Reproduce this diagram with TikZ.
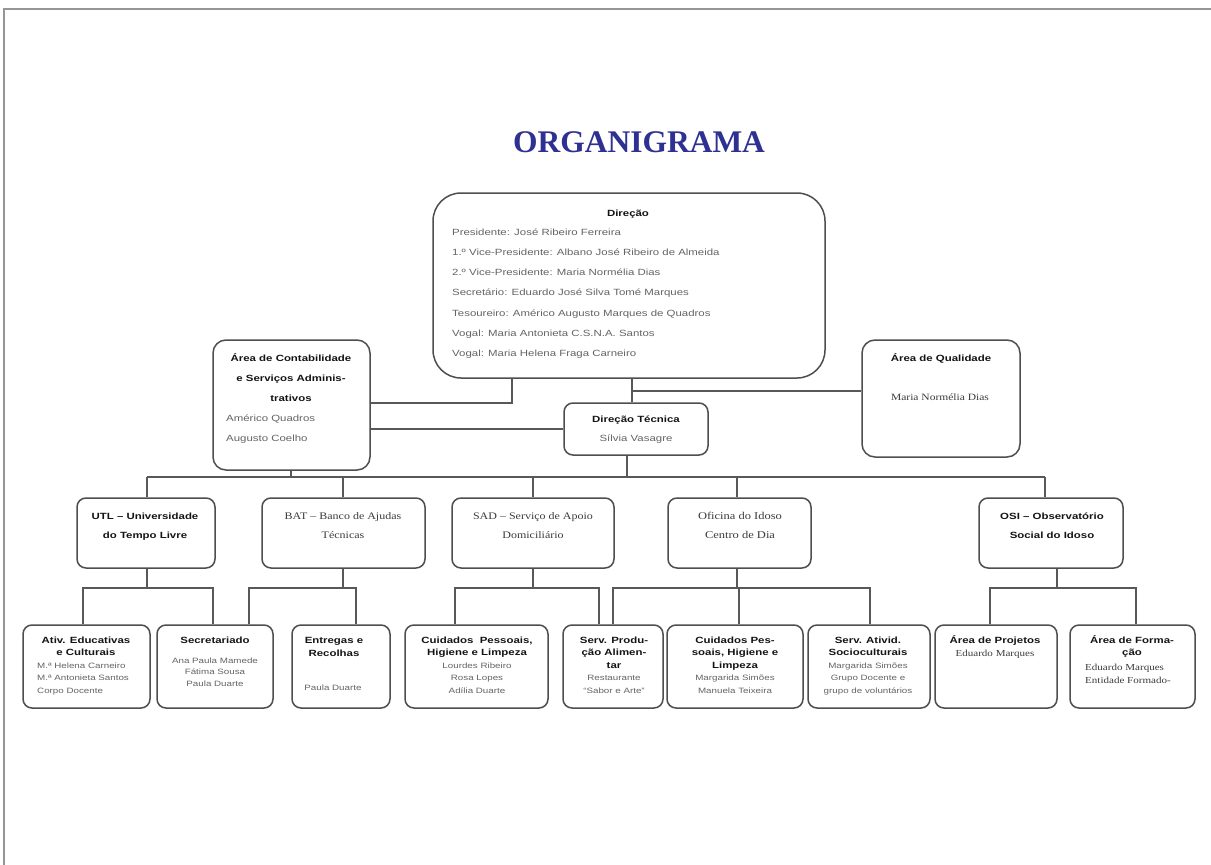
\documentclass[tikz,border=0pt]{standalone}
\usepackage{fontspec}
\setmainfont{Liberation Sans}
\newfontfamily\arialw{Liberation Sans}[FakeStretch=1.27]
\newfontfamily\timesw{Liberation Serif}[FakeStretch=1.2]
\newfontfamily\titlefnt{Liberation Serif}

\definecolor{titleblue}{RGB}{46,49,146}
\definecolor{boxline}{RGB}{78,78,78}
\definecolor{linkline}{RGB}{88,88,88}
\definecolor{headtext}{RGB}{20,20,20}
\definecolor{bodytext}{RGB}{100,100,100}
\definecolor{seriftext}{RGB}{60,60,60}
\definecolor{pageedge}{RGB}{150,150,150}

\newcommand\sansbold[2]{\arialw\bfseries\fontsize{#1}{#2}\selectfont}
\newcommand\sansreg[2]{\arialw\fontsize{#1}{#2}\selectfont}
\newcommand\serifreg[2]{\timesw\fontsize{#1}{#2}\selectfont}
% fixes the height of a first line, so that a north anchor sits 9pt above its baseline
\newcommand\lnstrut{\rule{0pt}{9pt}}

\tikzset{
  box/.style={draw=boxline, line width=1.5pt, rounded corners=9pt, fill=white, inner sep=0pt},
  link/.style={draw=linkline, line width=1.4pt},
  hd/.style={font=\sansbold{9}{#1}, text=headtext, inner sep=0pt, anchor=north, align=center},
  hd/.default=20,
  bd/.style={font=\sansreg{9}{#1}, text=bodytext, inner sep=0pt, anchor=north, align=center},
  bd/.default=20,
  sm/.style={font=\sansreg{7.7}{#1}, text=bodytext, inner sep=0pt, anchor=north, align=center},
  sm/.default=12.5,
  sr/.style={font=\serifreg{10}{#1}, text=seriftext, inner sep=0pt, anchor=north, align=center},
  sr/.default=19,
  srs/.style={font=\serifreg{9.2}{#1}, text=seriftext, inner sep=0pt, anchor=north, align=center},
  srs/.default=13,
  lft/.style={anchor=north west, align=left},
}

\begin{document}
\begin{tikzpicture}[x=1pt, y=-1pt]
\useasboundingbox (0,0) rectangle (1211,865);
\fill[white] (0,0) rectangle (1211,865);

% page edge
\draw[pageedge, line width=1.5pt] (4,865) -- (4,9) -- (1211,9);

% title
\node[anchor=base, inner sep=0pt, font=\titlefnt\bfseries\fontsize{31.5}{36}\selectfont, text=titleblue] (title) at (639,152.5) {ORGANIGRAMA};

% ---------- boxes ----------
\node[box, rounded corners=28pt, minimum width=392pt, minimum height=185pt] (dir) at (629,285.5) {};
\node[box, rounded corners=13pt, minimum width=157pt, minimum height=130pt] (cont) at (291.5,405) {};
\node[box, minimum width=144pt, minimum height=52pt] (tec) at (636,429) {};
\node[box, rounded corners=13pt, minimum width=158pt, minimum height=117pt] (qual) at (941,398.5) {};

\node[box, minimum width=138pt, minimum height=70pt] (utl) at (146,533) {};
\node[box, minimum width=163pt, minimum height=70pt] (bat) at (343.5,533) {};
\node[box, minimum width=162pt, minimum height=70pt] (sad) at (533,533) {};
\node[box, minimum width=143pt, minimum height=70pt] (ofi) at (739.5,533) {};
\node[box, minimum width=144pt, minimum height=70pt] (osi) at (1051,533) {};

\node[box, minimum width=127pt, minimum height=83pt] (ativ) at (86.5,666.5) {};
\node[box, minimum width=116pt, minimum height=83pt] (sec)  at (215,666.5) {};
\node[box, minimum width=98pt,  minimum height=83pt] (ent)  at (341,666.5) {};
\node[box, minimum width=143pt, minimum height=83pt] (cui1) at (476.5,666.5) {};
\node[box, minimum width=100pt, minimum height=83pt] (serv) at (613,666.5) {};
\node[box, minimum width=136pt, minimum height=83pt] (cui2) at (735,666.5) {};
\node[box, minimum width=122pt, minimum height=83pt] (soc)  at (869,666.5) {};
\node[box, minimum width=122pt, minimum height=83pt] (proj) at (996,666.5) {};
\node[box, minimum width=125pt, minimum height=83pt] (form) at (1132.5,666.5) {};

% ---------- texts ----------
\node[hd] (dirT) at (628,207) {\lnstrut Direção};
\node[bd=20.2, lft] (dirL) at (452,226) {\lnstrut Presidente: José Ribeiro Ferreira\\
  1.º Vice-Presidente: Albano José Ribeiro de Almeida\\
  2.º Vice-Presidente: Maria Normélia Dias\\
  Secretário: Eduardo José Silva Tomé Marques\\
  Tesoureiro: Américo Augusto Marques de Quadros\\
  Vogal: Maria Antonieta C.S.N.A. Santos\\
  Vogal: Maria Helena Fraga Carneiro};

\node[hd] (contT) at (291,352) {\lnstrut Área de Contabilidade\\e Serviços Adminis-\\trativos};
\node[bd, lft] (contL) at (226,412) {\lnstrut Américo Quadros\\Augusto Coelho};

\node[hd] (tecT) at (636,413) {\lnstrut Direção Técnica};
\node[bd] (tecL) at (636,432) {\lnstrut Sílvia Vasagre};

\node[hd] (qualT) at (941,352) {\lnstrut Área de Qualidade};
\node[sr, font=\serifreg{9.6}{19}] (qualL) at (940,391) {\lnstrut Maria Normélia Dias};

\node[hd=19] (utlT) at (145,510) {\lnstrut UTL – Universidade\\do Tempo Livre};
\node[sr] (batT) at (343,510) {\lnstrut BAT – Banco de Ajudas\\Técnicas};
\node[sr] (sadT) at (533,510) {\lnstrut SAD – Serviço de Apoio\\Domiciliário};
\node[sr, font=\serifreg{10.4}{19}] (ofiT) at (740,510) {\lnstrut Oficina do Idoso\\Centro de Dia};
\node[hd=19] (osiT) at (1052,510) {\lnstrut OSI – Observatório\\Social do Idoso};

\node[hd=12.5] (ativT) at (86,634) {\lnstrut Ativ. Educativas\\e Culturais};
\node[sm, lft] (ativL) at (37,659) {\lnstrut M.ª Helena Carneiro\\M.ª Antonieta Santos\\Corpo Docente};

\node[hd=12.5] (secT) at (215,634) {\lnstrut Secretariado};
\node[sm=11.5] (secL) at (215,654) {\lnstrut Ana Paula Mamede\\Fátima Sousa\\Paula Duarte};

\node[hd=13] (entT) at (334,634) {\lnstrut Entregas e\\Recolhas};
\node[sm] (entL) at (333,681) {\lnstrut Paula Duarte};

\node[hd=12.5] (cui1T) at (477,634) {\lnstrut Cuidados \ Pessoais,\\Higiene e Limpeza};
\node[sm] (cui1L) at (477,659) {\lnstrut Lourdes Ribeiro\\Rosa Lopes\\Adília Duarte};

\node[hd=12.5] (servT) at (614,634) {\lnstrut Serv. Produ-\\ção Alimen-\\tar};
\node[sm] (servL) at (614,671.5) {\lnstrut Restaurante\\“Sabor e Arte”};

\node[hd=12.5] (cui2T) at (735,634) {\lnstrut Cuidados Pes-\\soais, Higiene e\\Limpeza};
\node[sm] (cui2L) at (735,671.5) {\lnstrut Margarida Simões\\Manuela Teixeira};

\node[hd=12.5] (socT) at (868,634) {\lnstrut Serv. Ativid.\\Socioculturais};
\node[sm] (socL) at (868,659) {\lnstrut Margarida Simões\\Grupo Docente e\\grupo de voluntários};

\node[hd=12.5] (projT) at (995,634) {\lnstrut Área de Projetos};
\node[srs] (projL) at (995,647) {\lnstrut Eduardo Marques};

\node[hd=12.5] (formT) at (1132,634) {\lnstrut Área de Forma-\\ção};
\node[srs, lft] (formL) at (1085,661) {\lnstrut Eduardo Marques\\Entidade Formado-};

% ---------- connectors: direction level ----------
\coordinate (dirA) at ([xshift=-117pt]dir.south);
\draw[link] (dirA) |- ([yshift=2pt]cont.east);
\draw[link] (cont.east |- tec.west) -- (tec.west);
\coordinate (dirB) at ([xshift=3pt]dir.south);
\draw[link] (dirB) -- (dirB |- tec.north);
\coordinate (qualA) at ([yshift=7.5pt]qual.west);
\draw[link] (dirB |- qualA) -- (qualA);

% ---------- connectors: main bus ----------
\coordinate (busL) at (147,477);
\coordinate (busR) at (1045,477);
\draw[link] (busL) -- (busR);
\coordinate (tecB) at ([xshift=-9pt]tec.south);
\draw[link] (tecB) -- (tecB |- busL);
\coordinate (contB) at ([xshift=-0.5pt]cont.south);
\draw[link] (contB) -- (contB |- busL);
\draw[link] (busL) -- (busL |- utl.north);
\coordinate (batA) at ([xshift=-0.5pt]bat.north);
\draw[link] (batA |- busL) -- (batA);
\draw[link] (sad.north |- busL) -- (sad.north);
\coordinate (ofiA) at ([xshift=-2.5pt]ofi.north);
\draw[link] (ofiA |- busL) -- (ofiA);
\draw[link] (busR) -- (busR |- osi.north);

% ---------- connectors: services to teams ----------
\coordinate (row3) at (0,588);

\coordinate (utlB) at ([xshift=1pt]utl.south);
\draw[link] (utlB) -- (utlB |- row3);
\coordinate (ativA) at ([xshift=-3.5pt]ativ.north);
\coordinate (secA) at ([xshift=-2pt]sec.north);
\draw[link] (ativA) |- (secA |- row3) -- (secA);

\coordinate (batB) at ([xshift=-0.5pt]bat.south);
\draw[link] (batB) -- (batB |- row3);
\coordinate (secB) at ([xshift=34pt]sec.north);
\coordinate (entA) at ([xshift=15pt]ent.north);
\draw[link] (secB) |- (entA |- row3) -- (entA);

\draw[link] (sad.south) -- (sad.south |- row3);
\coordinate (cuiA) at ([xshift=-21.5pt]cui1.north);
\coordinate (serA) at ([xshift=-14pt]serv.north);
\draw[link] (cuiA) |- (serA |- row3) -- (serA);

\coordinate (ofiB) at ([xshift=-2.5pt]ofi.south);
\draw[link] (ofiB) -- (ofiB |- row3);
\coordinate (cu2A) at ([xshift=4pt]cui2.north);
\coordinate (socA) at ([xshift=1pt]soc.north);
\draw[link] (serv.north) |- (socA |- row3) -- (socA);
\draw[link] (cu2A) -- (cu2A |- row3);

\coordinate (osiB) at ([xshift=6pt]osi.south);
\draw[link] (osiB) -- (osiB |- row3);
\coordinate (proA) at ([xshift=-6pt]proj.north);
\coordinate (forA) at ([xshift=3.5pt]form.north);
\draw[link] (proA) |- (forA |- row3) -- (forA);
\end{tikzpicture}
\end{document}
